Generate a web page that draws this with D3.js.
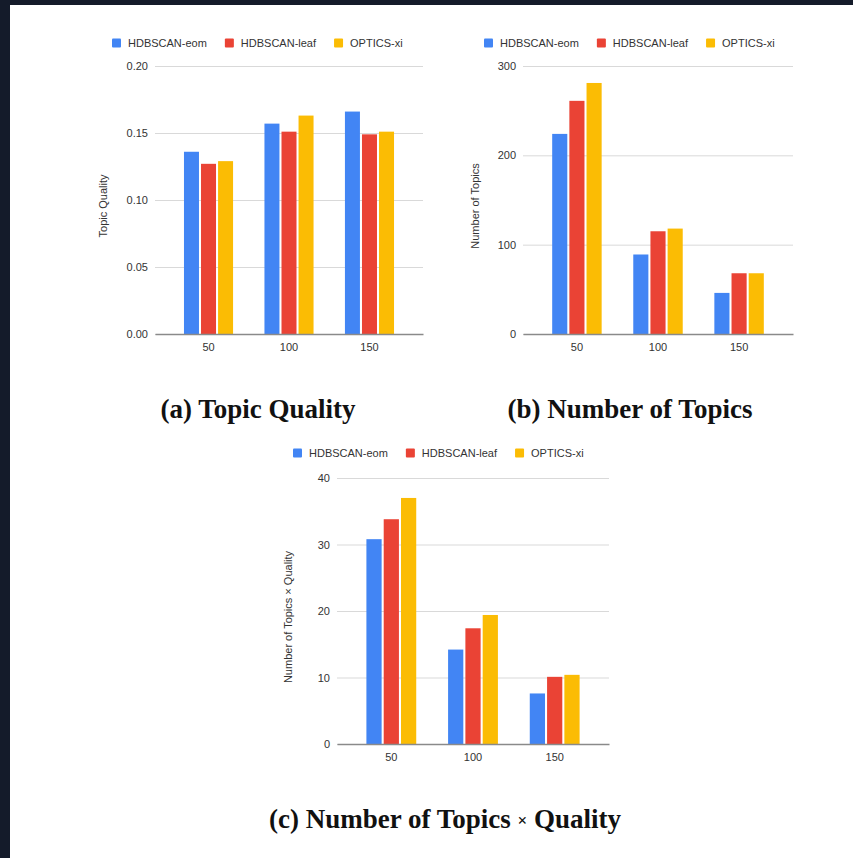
<!DOCTYPE html>
<html>
<head>
<meta charset="utf-8">
<script src="https://cdn.jsdelivr.net/npm/d3@7"></script>
<style>
  html, body { margin: 0; padding: 0; background: #ffffff; }
  svg { display: block; }
  .tick text { font-family: "Liberation Sans", Arial, sans-serif; }
</style>
</head>
<body>
<svg id="fig" width="853" height="858"></svg>
<script>
// ---- data ----
const categories = ["50", "100", "150"];
const series = ["HDBSCAN-eom", "HDBSCAN-leaf", "OPTICS-xi"];
const seriesColors = ["#4285F4", "#EA4335", "#FBBC04"];

// Topic quality per min cluster size
const qualityEom  = [0.136, 0.157, 0.166];
const qualityLeaf = [0.127, 0.151, 0.149];
const qualityXi   = [0.129, 0.163, 0.151];
const qualityTicks = [0, 0.05, 0.10, 0.15, 0.20];

// Number of topics found
const topicsEom  = [224, 89, 46];
const topicsLeaf = [261, 115, 68];
const topicsXi   = [281, 118, 68];
const topicsTicks = [0, 100, 200, 300];

// Number of topics x quality
const productEom  = [30.8, 14.2, 7.6];
const productLeaf = [33.8, 17.4, 10.1];
const productXi   = [37.0, 19.4, 10.4];
const productTicks = [0, 10, 20, 30, 40];

const panels = [
  { values: [qualityEom, qualityLeaf, qualityXi], ticks: qualityTicks, fmt: d3.format(".2f"),
    yTitle: "Topic Quality", caption: "(a) Topic Quality",
    left: 155, right: 423, top: 66, bottom: 334, legendX: 112, legendY: 43, titleX: 103,
    captionX: 258, captionY: 418 },
  { values: [topicsEom, topicsLeaf, topicsXi], ticks: topicsTicks, fmt: d3.format("d"),
    yTitle: "Number of Topics", caption: "(b) Number of Topics",
    left: 523, right: 793, top: 66, bottom: 334, legendX: 484, legendY: 43, titleX: 475,
    captionX: 630, captionY: 418 },
  { values: [productEom, productLeaf, productXi], ticks: productTicks, fmt: d3.format("d"),
    yTitle: "Number of Topics × Quality", caption: "(c) Number of Topics × Quality",
    left: 337, right: 609, top: 478, bottom: 744, legendX: 293, legendY: 453, titleX: 288,
    captionX: 445, captionY: 828 }
];

const svg = d3.select("#fig");
const sans = "'Liberation Sans', Arial, Helvetica, sans-serif";

// page frame: dark strip along top and left edges
svg.append("rect").attr("x", 0).attr("y", 0).attr("width", 853).attr("height", 5).attr("fill", "#141b2a");
svg.append("rect").attr("x", 0).attr("y", 0).attr("width", 10).attr("height", 858).attr("fill", "#141b2a");

panels.forEach(p => {
  const g = svg.append("g");

  const x = d3.scaleBand().domain(categories).range([p.left, p.right])
    .paddingInner(0.39).paddingOuter(0.36);
  const xs = d3.scaleBand().domain(series).range([0, x.bandwidth()]).paddingInner(0.12);
  const yMax = p.ticks[p.ticks.length - 1];
  const y = d3.scaleLinear().domain([0, yMax]).range([p.bottom, p.top]);

  // gridlines + tick labels
  const yAxis = d3.axisLeft(y).tickValues(p.ticks).tickFormat(p.fmt)
    .tickSize(-(p.right - p.left)).tickPadding(7);
  const ya = g.append("g").attr("transform", `translate(${p.left},0)`).call(yAxis);
  ya.select(".domain").remove();
  ya.selectAll(".tick line").attr("stroke", "#d9d9d9").attr("stroke-width", 1);
  ya.selectAll(".tick text").attr("font-size", 11).attr("fill", "#333");

  // bars
  p.values.forEach((vals, si) => {
    g.append("g").selectAll("rect").data(vals).join("rect")
      .attr("x", (d, i) => x(categories[i]) + xs(series[si]))
      .attr("width", xs.bandwidth())
      .attr("y", d => y(d))
      .attr("height", d => y(0) - y(d))
      .attr("fill", seriesColors[si]);
  });

  // baseline + category labels
  const xAxis = d3.axisBottom(x).tickSize(0).tickPadding(9);
  const xa = g.append("g").attr("transform", `translate(0,${p.bottom})`).call(xAxis);
  xa.select(".domain").attr("stroke", "#8a8a8a").attr("stroke-width", 1.5);
  xa.selectAll(".tick text").attr("font-size", 11).attr("fill", "#333");

  // y axis title
  g.append("text")
    .attr("transform", `translate(${p.titleX},${(p.top + p.bottom) / 2 + 6}) rotate(-90)`)
    .attr("text-anchor", "middle").attr("dominant-baseline", "central")
    .attr("font-family", sans).attr("font-size", 11).attr("fill", "#333")
    .text(p.yTitle);

  // legend
  let lx = p.legendX;
  series.forEach((s, si) => {
    g.append("rect").attr("x", lx).attr("y", p.legendY - 4.5).attr("width", 9).attr("height", 9)
      .attr("rx", 1).attr("fill", seriesColors[si]);
    const t = g.append("text").attr("x", lx + 16).attr("y", p.legendY)
      .attr("dominant-baseline", "central")
      .attr("font-family", sans).attr("font-size", 11).attr("fill", "#333").text(s);
    lx += 16 + t.node().getComputedTextLength() + 18;
  });

  // caption (the multiplication sign is set smaller, as in the paper's typeface)
  const cap = svg.append("text").attr("x", p.captionX).attr("y", p.captionY)
    .attr("text-anchor", "middle")
    .attr("font-family", "'Liberation Serif', 'Times New Roman', serif")
    .attr("font-weight", "bold").attr("font-size", 27).attr("fill", "#111");
  const parts = p.caption.split("×");
  parts.forEach((part, i) => {
    if (i > 0) cap.append("tspan").attr("font-size", 17).attr("dy", -2).text("×");
    const t = cap.append("tspan").text(part);
    if (i > 0) t.attr("dy", 2);
  });
});
</script>
</body>
</html>
